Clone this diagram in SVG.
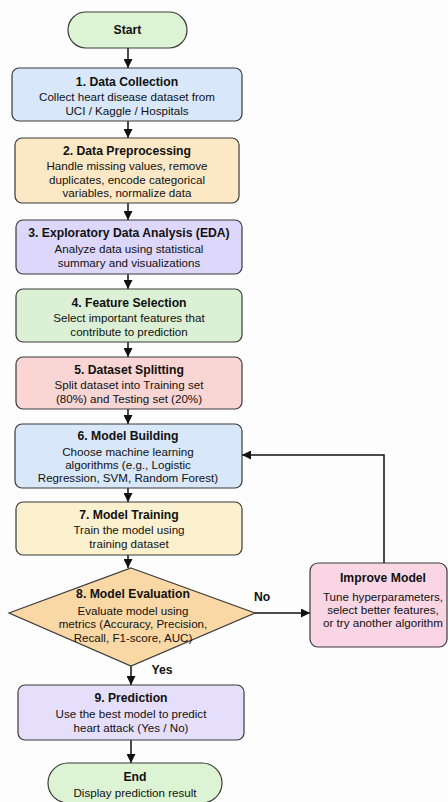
<svg xmlns="http://www.w3.org/2000/svg" width="448" height="802" viewBox="0 0 448 802">
<defs>
<marker id="ah" viewBox="0 0 10 10" refX="10" refY="5" markerWidth="9" markerHeight="9" markerUnits="userSpaceOnUse" orient="auto">
<path d="M0,0 L10,5 L0,10 z" fill="#111"/>
</marker>
<style>
.n{stroke:#3a3a3a;stroke-width:1.2}
.t{font-family:"Liberation Sans",Arial,sans-serif;font-weight:bold;font-size:12.2px;fill:#111;text-anchor:middle;dominant-baseline:central}
.b{font-family:"Liberation Sans",Arial,sans-serif;font-size:11.6px;fill:#111;text-anchor:middle;dominant-baseline:central}
.c{stroke:#111;stroke-width:1.5;fill:none;marker-end:url(#ah)}
</style>
</defs>
<rect width="448" height="802" fill="#fdfdfd"/>
<g id="connectors">
<path class="c" d="M128,48 V68"/>
<path class="c" d="M128,121 V138"/>
<path class="c" d="M128,203 V220"/>
<path class="c" d="M128,274 V289"/>
<path class="c" d="M128,342 V357"/>
<path class="c" d="M128,409 V424"/>
<path class="c" d="M128,488 V502"/>
<path class="c" d="M128,555 V568"/>
<path class="c" d="M131,666 V685"/>
<path class="c" d="M131,740 V763"/>
<path class="c" d="M255,613 H310"/>
<path class="c" d="M384,563 V455 H242"/>
<text class="t" x="262" y="597">No</text>
<text class="t" x="162" y="670">Yes</text>
</g>
<g id="start">
<rect class="n" x="68" y="12" width="119" height="36" rx="18" fill="#dcf3d4"/>
<text class="t" x="127.5" y="30">Start</text>
</g>
<g id="n1">
<rect class="n" x="12" y="68" width="230" height="53" rx="7" fill="#d8e7fa"/>
<text class="t" x="127" y="82">1. Data Collection</text>
<text class="b" x="127" y="96">Collect heart disease dataset from</text>
<text class="b" x="127" y="110">UCI / Kaggle / Hospitals</text>
</g>
<g id="n2">
<rect class="n" x="15" y="138" width="224" height="65" rx="7" fill="#fce8c5"/>
<text class="t" x="127" y="151">2. Data Preprocessing</text>
<text class="b" x="127" y="165">Handle missing values, remove</text>
<text class="b" x="127" y="179">duplicates, encode categorical</text>
<text class="b" x="127" y="192">variables, normalize data</text>
</g>
<g id="n3">
<rect class="n" x="16" y="220" width="226" height="54" rx="7" fill="#ddd8fb"/>
<text class="t" x="129" y="233">3. Exploratory Data Analysis (EDA)</text>
<text class="b" x="129" y="248">Analyze data using statistical</text>
<text class="b" x="129" y="262">summary and visualizations</text>
</g>
<g id="n4">
<rect class="n" x="16" y="289" width="226" height="53" rx="7" fill="#dbf0d4"/>
<text class="t" x="129" y="303">4. Feature Selection</text>
<text class="b" x="129" y="317">Select important features that</text>
<text class="b" x="129" y="331">contribute to prediction</text>
</g>
<g id="n5">
<rect class="n" x="16" y="357" width="226" height="52" rx="7" fill="#f9d6d4"/>
<text class="t" x="129" y="370">5. Dataset Splitting</text>
<text class="b" x="129" y="384">Split dataset into Training set</text>
<text class="b" x="129" y="398">(80%) and Testing set (20%)</text>
</g>
<g id="n6">
<rect class="n" x="15" y="424" width="227" height="64" rx="7" fill="#d8e7fa"/>
<text class="t" x="128" y="436">6. Model Building</text>
<text class="b" x="128" y="451">Choose machine learning</text>
<text class="b" x="128" y="464">algorithms (e.g., Logistic</text>
<text class="b" x="128" y="477">Regression, SVM, Random Forest)</text>
</g>
<g id="n7">
<rect class="n" x="16" y="502" width="226" height="53" rx="7" fill="#fcf1cf"/>
<text class="t" x="129" y="515">7. Model Training</text>
<text class="b" x="129" y="529">Train the model using</text>
<text class="b" x="129" y="543">training dataset</text>
</g>
<g id="n8">
<polygon class="n" points="131,568 255,613 131,666 9,613" fill="#fad8a6"/>
<text class="t" x="133" y="594">8. Model Evaluation</text>
<text class="b" x="133" y="610">Evaluate model using</text>
<text class="b" x="133" y="623">metrics (Accuracy, Precision,</text>
<text class="b" x="133" y="637">Recall, F1-score, AUC)</text>
</g>
<g id="improve">
<rect class="n" x="310" y="563" width="137" height="84" rx="8" fill="#fad6e5"/>
<text class="t" x="383" y="578">Improve Model</text>
<text class="b" x="383" y="596">Tune hyperparameters,</text>
<text class="b" x="383" y="609">select better features,</text>
<text class="b" x="383" y="622">or try another algorithm</text>
</g>
<g id="n9">
<rect class="n" x="18" y="685" width="226" height="55" rx="7" fill="#e5dffb"/>
<text class="t" x="131" y="698">9. Prediction</text>
<text class="b" x="131" y="713">Use the best model to predict</text>
<text class="b" x="131" y="727">heart attack (Yes / No)</text>
</g>
<g id="end">
<rect class="n" x="48" y="763" width="174" height="40" rx="20" fill="#dcf3d4"/>
<text class="t" x="135" y="777">End</text>
<text class="b" x="135" y="792">Display prediction result</text>
</g>
</svg>
